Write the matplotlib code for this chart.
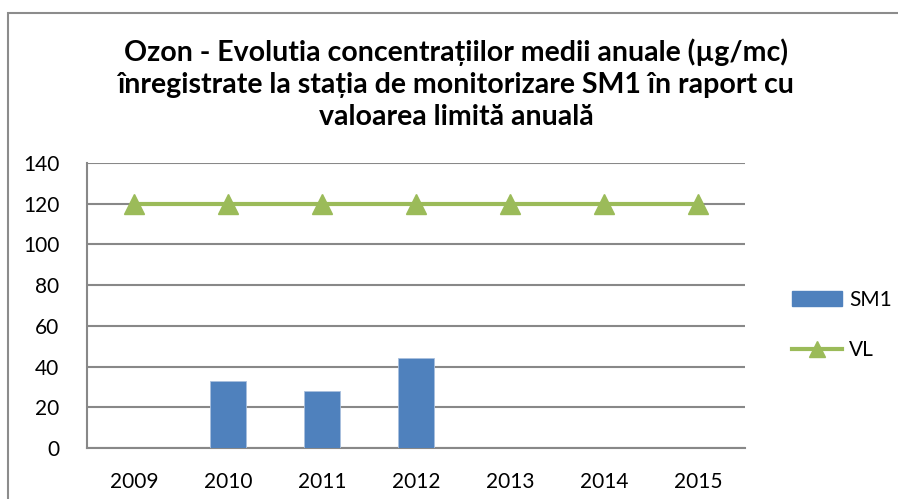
import matplotlib
matplotlib.use("Agg")
import matplotlib.pyplot as plt
from matplotlib.patches import Rectangle
from matplotlib.lines import Line2D
import numpy as np

years = ["2009", "2010", "2011", "2012", "2013", "2014", "2015"]
sm1 = [np.nan, 33, 28, 44, np.nan, np.nan, np.nan]
vl = [120, 120, 120, 120, 120, 120, 120]
yticks = [0, 20, 40, 60, 80, 100, 120, 140]

plt.rcParams['font.family'] = ['Lato', 'DejaVu Sans']

fig = plt.figure(figsize=(8.98, 4.99), dpi=100)
ax = fig.add_axes([87/898, 1-448/499, (745-87)/898, (448-163)/499])

x = np.arange(len(years))
ax.bar(x, sm1, width=0.38, color="#4F81BD", edgecolor="#A9C0DE", linewidth=0.6, zorder=3, label="SM1")
ax.plot(x, vl, color="#9BBB59", linewidth=3, marker="^", markersize=14, zorder=4, label="VL")

ax.set_xlim(-0.5, len(years)-0.5)
ax.set_ylim(0, 140)
ax.set_yticks(yticks)
ax.set_yticklabels([str(v) for v in yticks], fontsize=15)
ax.set_xticks(x)
ax.set_xticklabels(years, fontsize=15)
ax.tick_params(axis='x', length=0, pad=17)
ax.tick_params(axis='y', length=0, pad=20)
ax.yaxis.grid(True, color="#888888", linewidth=1.5, zorder=0)
for s in ["top", "right"]:
    ax.spines[s].set_visible(False)
for s in ["left", "bottom"]:
    ax.spines[s].set_color("#888888")
    ax.spines[s].set_linewidth(1.5)

fig.text(456/898, 1-84/499,
         "Ozon - Evolutia concentrațiilor medii anuale (µg/mc)\nînregistrate la stația de monitorizare SM1 în raport cu\nvaloarea limită anuală",
         ha="center", va="center", fontsize=20.5, fontweight="bold", linespacing=1.28)

handles = [Rectangle((0, 0), 1, 1, color="#4F81BD"),
           Line2D([0], [0], color="#9BBB59", linewidth=3, marker="^", markersize=12)]
fig.legend(handles, ["SM1", "VL"], loc="center left", bbox_to_anchor=(773/898, 1-325/499),
           frameon=False, fontsize=15, handlelength=2.4, labelspacing=1.45, handletextpad=0.35)

fig.add_artist(Rectangle((8/898, -0.1), 1.2, 1.1 - 13/499, transform=fig.transFigure,
                         fill=False, edgecolor="#8C8C8C", linewidth=1.5))

fig.savefig("out.png", dpi=100)
